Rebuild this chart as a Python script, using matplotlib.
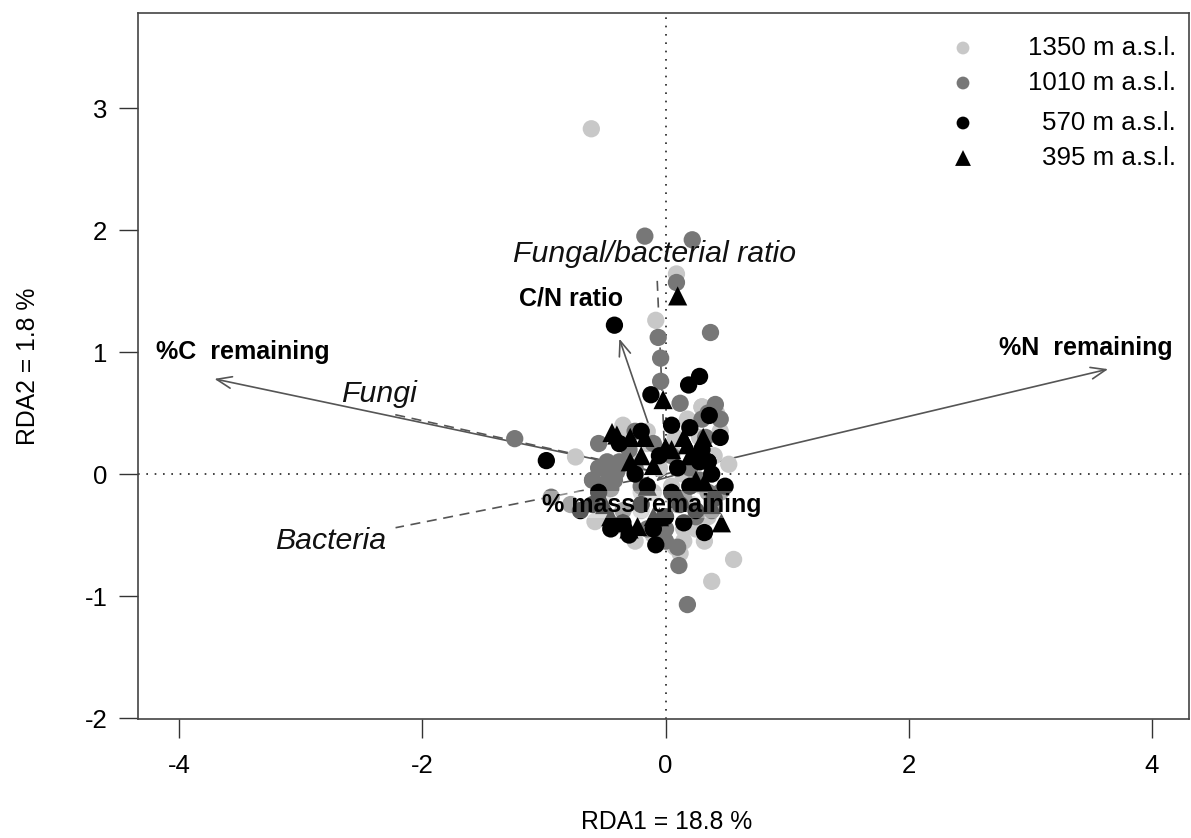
import matplotlib
matplotlib.use("Agg")
import matplotlib.pyplot as plt

plt.rcParams['font.family'] = ['Liberation Sans', 'DejaVu Sans']

# ---- data (site scores, RDA1 / RDA2) ----
x1350 = [-0.61, 0.09, -0.08, -0.74, 0.52, 0.40, 0.56, 0.38, -0.58, -0.40, 0.12, 0.25, 0.30, -0.30,
         -0.15, 0.05, 0.20, -0.45, -0.20, 0.15, 0.35, -0.05, 0.10, 0.28, -0.35, 0.00, 0.18, -0.10,
         0.42, 0.22, -0.25, 0.08, 0.32, -0.52, 0.05, 0.14,
         -0.25, -0.10, 0.00, 0.15, 0.30, 0.45, -0.15, 0.30, -0.50, 0.08, -0.20, 0.20]
y1350 = [2.83, 1.64, 1.26, 0.14, 0.08, 0.15, -0.70, -0.88, -0.39, -0.42, -0.65, -0.45, 0.55, 0.35,
         0.25, 0.20, -0.10, -0.05, -0.30, -0.55, -0.35, 0.05, -0.20, 0.30, 0.40, -0.45, 0.45, -0.15,
         0.50, -0.25, 0.10, 0.30, -0.55, -0.20, -0.10, 0.00,
         -0.55, -0.50, -0.35, -0.45, -0.10, 0.35, 0.35, 0.55, -0.35, -0.60, -0.15, 0.00]

x1010 = [-0.17, 0.22, 0.09, 0.37, -0.06, -0.04, -0.04, 0.12, -1.24, 0.41, 0.18, 0.11, -0.50, -0.45,
         -0.42, -0.48, -0.94, -0.78, 0.35, 0.30, -0.30, -0.20, 0.05, 0.25, -0.10, 0.15, 0.38, -0.55,
         -0.35, 0.00, 0.20, 0.45, -0.15, 0.28, -0.25, 0.10, 0.33, -0.60,
         -0.55, -0.50, -0.40, -0.45, -0.60, -0.38, 0.00, 0.35, -0.25, 0.45, 0.10]
y1010 = [1.95, 1.92, 1.57, 1.16, 1.12, 0.95, 0.76, 0.58, 0.29, 0.57, -1.07, -0.75, 0.05, 0.00,
         -0.05, 0.10, -0.19, -0.25, 0.50, 0.45, 0.20, -0.10, 0.15, -0.35, 0.25, -0.20, -0.30, 0.25,
         -0.30, -0.45, 0.05, -0.15, -0.45, -0.05, 0.05, -0.60, 0.30, -0.05,
         0.05, -0.08, 0.02, -0.12, -0.05, 0.10, -0.55, -0.15, 0.35, 0.45, -0.25]

x570 = [-0.42, -0.98, 0.28, 0.19, -0.12, 0.36, 0.49, -0.08, 0.35, -0.70, 0.20, -0.30, 0.05, -0.20,
        0.30, 0.15, -0.45, 0.40, -0.05, 0.10, -0.38, 0.25, -0.15, 0.32, -0.25, 0.00, 0.45, -0.55,
        0.12, 0.38,
        -0.20, 0.05, -0.35, 0.20, -0.10, 0.28, -0.60, 0.35]
y570 = [1.22, 0.11, 0.80, 0.73, 0.65, 0.48, -0.10, -0.58, 0.10, -0.30, 0.38, -0.50, 0.40, 0.35,
        0.20, -0.40, -0.45, -0.20, 0.15, 0.05, 0.25, -0.30, -0.10, -0.48, 0.00, -0.35, 0.30, -0.15,
        -0.25, 0.00,
        -0.25, -0.15, -0.40, -0.10, -0.45, 0.10, -0.25, 0.10]

x395 = [0.10, -0.02, -0.44, -0.29, -0.17, 0.18, 0.31, -0.29, -0.10, 0.32, 0.46, -0.23, -0.40, 0.20,
        0.05, -0.50, 0.25, -0.05, 0.12, -0.35, 0.38, -0.15, 0.00, 0.27, -0.45,
        -0.30, -0.10, 0.15, -0.20]
y395 = [1.46, 0.61, 0.34, 0.30, 0.30, 0.24, 0.30, 0.10, 0.07, -0.07, -0.40, -0.43, 0.32, 0.15,
        0.20, -0.25, -0.05, -0.35, -0.20, -0.40, -0.25, -0.10, 0.22, 0.18, -0.35,
        -0.45, -0.35, 0.30, 0.15]

group_labels = ["1350 m a.s.l.", "1010 m a.s.l.", "570 m a.s.l.", "395 m a.s.l."]

# biplot arrows (solid, with heads)
arrow_names = ["%C  remaining", "%N  remaining", "C/N ratio", "% mass remaining"]
arrow_x = [-3.71, 3.64, -0.38, -0.08]
arrow_y = [0.78, 0.86, 1.11, -0.06]
arrow_lab_x = [-3.48, 3.46, -0.78, -0.11]
arrow_lab_y = [1.00, 1.03, 1.44, -0.25]

# dashed vectors (no heads)
dash_names = ["Fungi", "Bacteria", "Fungal/bacterial ratio"]
dash_x = [-2.24, -2.22, -0.07]
dash_y = [0.49, -0.44, 1.63]
dash_lab_x = [-2.36, -2.75, -0.09]
dash_lab_y = [0.66, -0.55, 1.80]

xticks = [-4, -2, 0, 2, 4]
yticks = [-2, -1, 0, 1, 2, 3]

# ---- figure ----
W, H = 1191, 838
fig = plt.figure(figsize=(W / 100, H / 100), dpi=100)
ax = fig.add_axes([138 / W, 1 - 719 / H, (1189 - 138) / W, (719 - 13) / H])
ax.set_xlim(-4.338, 4.305)
ax.set_ylim(-2.008, 3.779)

ax.axhline(0, color='#222222', lw=1.2, ls=(0, (1, 4)), zorder=1)
ax.axvline(0, color='#222222', lw=1.2, ls=(0, (1, 4)), zorder=1)

acol = '#555555'
for x, y in zip(arrow_x, arrow_y):
    ax.annotate('', xy=(x, y), xytext=(0, 0),
                arrowprops=dict(arrowstyle='->,head_length=0.9,head_width=0.35',
                                color=acol, lw=1.2, shrinkA=0, shrinkB=0, mutation_scale=12),
                zorder=2)
for x, y in zip(dash_x, dash_y):
    ax.plot([0, x], [0, y], color=acol, lw=1.2, ls=(0, (6, 4)), zorder=2)

ms = 155
ax.scatter(x1350, y1350, s=ms, marker='o', color='#c8c8c8', edgecolors='none', zorder=3)
ax.scatter(x1010, y1010, s=ms, marker='o', color='#777777', edgecolors='none', zorder=3)
ax.scatter(x570, y570, s=ms, marker='o', color='black', edgecolors='none', zorder=3)
ax.scatter(x395, y395, s=190, marker='^', color='black', edgecolors='none', zorder=3)

for name, x, y in zip(arrow_names, arrow_lab_x, arrow_lab_y):
    t = ax.text(x, y, name, fontsize=18, fontweight='bold', ha='center', va='center', zorder=5)
    if name.startswith('% mass'):
        t.set_bbox(dict(facecolor='white', alpha=0.35, edgecolor='none', pad=1))
for name, x, y in zip(dash_names, dash_lab_x, dash_lab_y):
    ax.text(x, y, name, fontsize=21.8, fontstyle='italic', ha='center', va='center',
            color='#111111', zorder=5)

# legend (manual, right-aligned text)
leg_y = [1 - (48 - 13) / 706, 1 - (83 - 13) / 706, 1 - (123 - 13) / 706, 1 - (158 - 13) / 706]
leg_mx = (963 - 138) / 1051
leg_tx = (1176 - 138) / 1051
leg_cols = ['#c8c8c8', '#777777', 'black', 'black']
leg_mk = ['o', 'o', 'o', '^']
leg_s = [85, 85, 85, 130]
for lab, yy, c, m, s in zip(group_labels, leg_y, leg_cols, leg_mk, leg_s):
    ax.scatter([leg_mx], [yy], s=s, marker=m, color=c, edgecolors='none',
               transform=ax.transAxes, zorder=6, clip_on=False)
    ax.text(leg_tx, yy, lab, fontsize=18.6, ha='right', va='center', transform=ax.transAxes,
            zorder=6)

ax.set_xticks(xticks)
ax.set_yticks(yticks)
ax.set_xticklabels([str(v) for v in xticks])
ax.set_yticklabels([str(v) for v in yticks])
ax.tick_params(axis='both', length=14, width=1.0, color='#333333', labelsize=18.5, direction='out')
ax.tick_params(axis='x', pad=11)
ax.tick_params(axis='y', pad=8)
for sp in ax.spines.values():
    sp.set_color('#444444')
    sp.set_linewidth(1.2)

fig.text(667 / W, 1 - 822 / H, "RDA1 = 18.8 %", fontsize=17.8, ha='center', va='center')
fig.text(28 / W, 1 - 366 / H, "RDA2 = 1.8 %", fontsize=17.8, ha='center', va='center',
         rotation=90)

fig.savefig("out.png", dpi=100, facecolor='white')
